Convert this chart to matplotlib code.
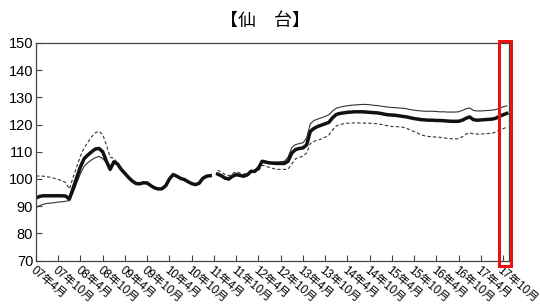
import matplotlib
matplotlib.use("Agg")
import matplotlib.pyplot as plt
from matplotlib.patches import Rectangle
import numpy as np

plt.rcParams['font.family'] = ['Liberation Sans', 'Noto Sans CJK JP', 'DejaVu Sans']

nan = np.nan

# monthly values from 2007-04 (index 0) to 2017-11 (index 127)
main_index = [
    93.0, 93.6, 93.8, 93.8, 93.8, 93.8, 93.8, 93.8, 93.7, 92.6,
    96.5, 100.5, 104.5, 107.5, 108.8, 110.0, 111.0, 111.2, 110.0, 106.5,
    103.5, 106.3, 105.5, 103.5, 102.0, 100.5, 99.2, 98.3, 98.2, 98.6,
    98.5, 97.5, 96.7, 96.3, 96.4, 97.5, 100.0, 101.6, 101.0, 100.2,
    99.8, 99.0, 98.3, 97.9, 98.4, 100.2, 101.0, 101.2, nan, 101.8,
    101.2, 100.3, 100.0, 101.0, 101.6, 101.3, 101.0, 101.5, 102.8, 102.8,
    104.0, 106.5, 106.2, 105.9, 105.8, 105.7, 105.7, 105.7, 106.5, 109.5,
    110.8, 111.2, 111.4, 112.5, 117.5, 118.6, 119.3, 119.8, 120.3, 120.8,
    122.5, 123.7, 124.1, 124.3, 124.5, 124.6, 124.7, 124.7, 124.7, 124.6,
    124.5, 124.4, 124.3, 124.1, 123.8, 123.6, 123.5, 123.4, 123.2, 123.0,
    122.8, 122.5, 122.2, 122.0, 121.8, 121.7, 121.6, 121.6, 121.5, 121.5,
    121.4, 121.3, 121.2, 121.2, 121.2, 121.6, 122.3, 122.8, 121.8, 121.6,
    121.7, 121.8, 121.9, 122.0, 122.3, 123.0, 123.6, 124.1,
]

thin_index = [
    89.4, 90.2, 90.7, 91.0, 91.1, 91.3, 91.5, 91.6, 91.8, 92.0,
    95.0, 98.5, 102.0, 104.7, 106.0, 107.0, 107.8, 108.3, 107.5, 106.0,
    103.8, 106.0, 105.3, 103.4, 101.9, 100.4, 99.1, 98.2, 98.1, 98.5,
    98.4, 97.4, 96.6, 96.2, 96.3, 97.3, 99.8, 101.4, 100.8, 100.0,
    99.6, 98.8, 98.1, 97.7, 98.2, 100.0, 100.8, 101.0, nan, 101.5,
    100.8, 99.9, 99.6, 100.6, 101.3, 101.0, 100.8, 101.4, 102.8, 102.9,
    104.3, 106.8, 106.4, 106.1, 106.1, 106.2, 106.3, 106.5, 108.0, 111.5,
    112.6, 113.0, 113.3, 115.0, 120.3, 121.5, 122.0, 122.5, 123.0, 123.6,
    125.0, 126.0, 126.4, 126.7, 126.9, 127.1, 127.2, 127.3, 127.4, 127.4,
    127.3, 127.1, 127.0, 126.8, 126.6, 126.4, 126.3, 126.2, 126.1, 126.0,
    125.8, 125.5, 125.3, 125.1, 125.0, 124.9, 124.9, 124.9, 124.8, 124.7,
    124.7, 124.6, 124.6, 124.6, 124.7, 125.2, 125.8, 126.1, 125.2, 125.0,
    125.0, 125.1, 125.2, 125.3, 125.5, 126.0, 126.5, 126.9,
]

dashed_index = [
    101.0, 101.1, 101.0, 100.8, 100.6, 100.2, 99.8, 99.3, 98.7, 96.3,
    100.5, 104.5, 108.5, 111.5, 113.5, 115.5, 117.0, 117.5, 116.3, 112.5,
    108.0, 107.6, 105.8, 103.6, 102.0, 100.4, 99.0, 98.2, 98.1, 98.4,
    98.3, 97.4, 96.6, 96.2, 96.3, 97.6, 100.3, 102.0, 101.1, 100.3,
    99.6, 98.9, 98.1, 97.7, 98.3, 100.1, 101.0, 101.3, nan, 103.2,
    102.6, 101.6, 101.2, 102.0, 102.6, 102.2, 101.8, 102.0, 102.8, 102.6,
    103.0, 105.0, 104.7, 104.2, 103.8, 103.5, 103.5, 103.5, 103.6, 105.5,
    107.4, 108.0, 108.3, 109.5, 113.0, 113.8, 114.3, 114.7, 115.3, 116.2,
    118.0, 119.5, 120.0, 120.3, 120.5, 120.6, 120.6, 120.6, 120.6, 120.5,
    120.5, 120.4, 120.3, 120.1, 119.8, 119.5, 119.3, 119.2, 119.2, 119.0,
    118.6, 118.0, 117.4, 116.8, 116.2, 115.8, 115.6, 115.5, 115.4, 115.3,
    115.1, 114.9, 114.8, 114.7, 114.8, 115.5, 116.5, 116.9, 116.6, 116.5,
    116.5, 116.6, 116.7, 116.8, 117.2, 117.9, 118.5, 119.0,
]

tick_labels = [
    "07年4月", "07年10月", "08年4月", "08年10月", "09年4月", "09年10月",
    "10年4月", "10年10月", "11年4月", "11年10月", "12年4月", "12年10月",
    "13年4月", "13年10月", "14年4月", "14年10月", "15年4月", "15年10月",
    "16年4月", "16年10月", "17年4月", "17年10月",
]

months = np.arange(len(main_index))

fig = plt.figure(figsize=(5.4, 3.08), dpi=100)
ax = fig.add_axes([36 / 540, 1 - 260.5 / 308, 473 / 540, 217.5 / 308])

ax.plot(months, dashed_index, color='#333333', lw=0.8, ls=(0, (3, 2)))
ax.plot(months, thin_index, color='#333333', lw=0.8)
ax.plot(months, main_index, color='#111111', lw=2.5)

ax.set_xlim(0, 127.6)
ax.set_ylim(70, 150)
ax.set_yticks(range(70, 151, 10))
ax.set_xticks(np.arange(0, 6 * len(tick_labels), 6))
ax.set_xticklabels(tick_labels, rotation=-40, ha='left', va='top',
                   rotation_mode='anchor', fontsize=8.3)
ax.tick_params(axis='y', direction='in', length=4, labelsize=10.5, pad=2, color='#444444')
ax.tick_params(axis='x', direction='in', length=4, pad=3, color='#444444')
for s in ax.spines.values():
    s.set_color('#444444')
    s.set_linewidth(0.9)

fig.text(0.49, 1 - 21 / 308, "【仙　台】", ha='center', va='center',
         fontsize=13, family=['Noto Sans CJK JP'])

# red highlight box around the latest data
fig.patches.append(Rectangle((498.8 / 540, 1 - 265.5 / 308), 12 / 540, 224.7 / 308,
                             transform=fig.transFigure, fill=False,
                             edgecolor='#ee1111', lw=2.2))

fig.savefig("out.png", dpi=100)
